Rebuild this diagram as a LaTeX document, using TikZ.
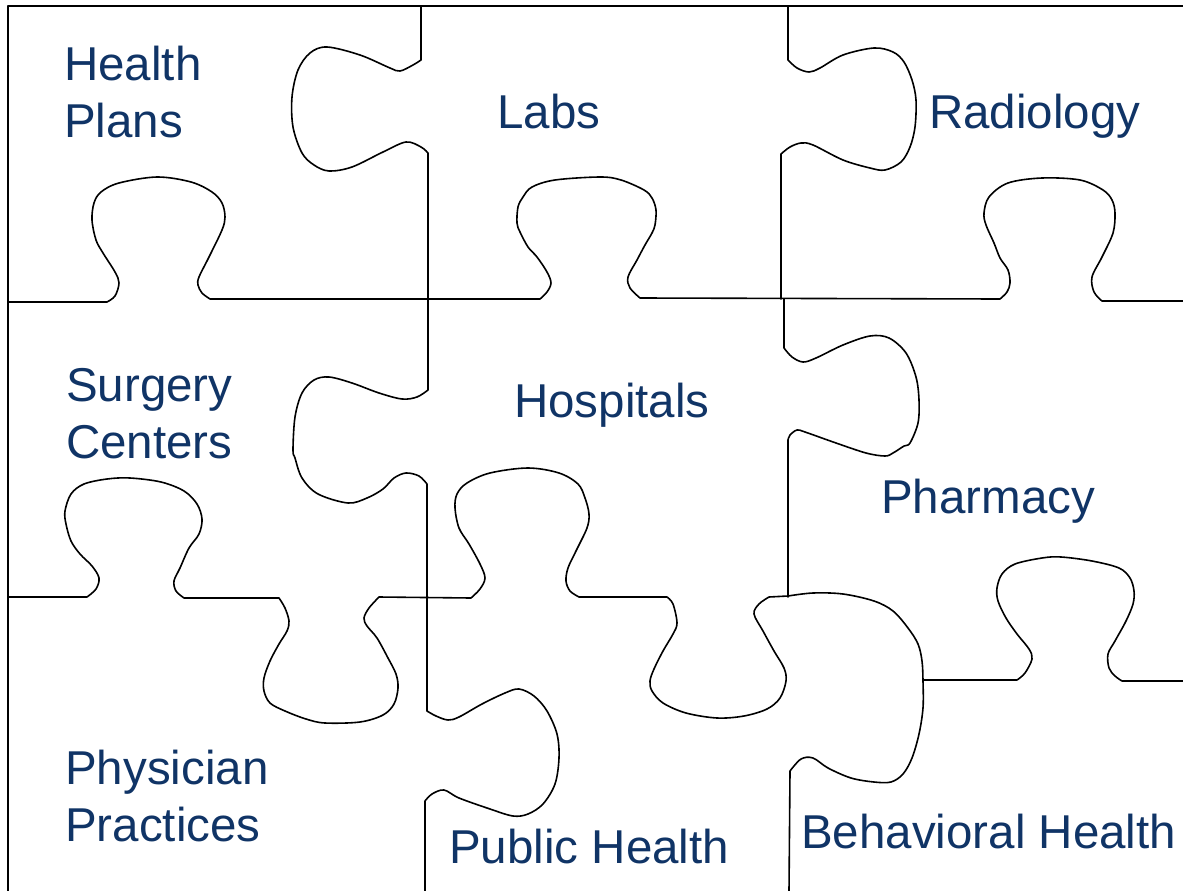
\documentclass[tikz,border=0pt]{standalone}
\usepackage{fontspec}
\setmainfont{Liberation Sans}
\usepackage{tikz}
\usetikzlibrary{positioning}
\definecolor{piececolor}{RGB}{16,52,102}

\begin{document}
\begin{tikzpicture} [
			x=1pt,y=-1pt,
			cut line/.style={draw=black,line width=1.6pt,line join=round,line cap=round},
			piece text/.style={text=piececolor,inner sep=0pt,anchor=base west,align=left,font=\fontsize{47.5}{57}\selectfont},
			tab/.style={smooth,tension=.55},
		]
		
		\useasboundingbox (0,0) rectangle (1183,891);
		\fill[white] (0,0) rectangle (1183,891);
		\clip (0,0) rectangle (1183,891);
		
		% outer frame (top and left only)
		\draw[cut line] (1183,6) -- (8,6) -- (8,891);
		
		% first column seam
		\draw[cut line] (421,6) -- (421,60)
			-- plot[tab] coordinates {(421,60) (413,65) (400,71) (390,68) (360,55) (327,47) (310,53) (298,70) (292,97) (293,127) (302,153) (314,165) (329,171) (352,167) (383,152) (406,142) (421,147) (428,153)}
			-- (428,390)
			-- plot[tab] coordinates {(428,390) (417,397) (402,399) (379,393) (352,383) (329,377) (314,380) (302,393) (295,417) (293,450) (295,458) (302,478) (318,494) (348,503) (367,498) (383,489) (394,478) (406,473) (419,476) (427,484)}
			-- (427,711)
			-- plot[tab] coordinates {(427,711) (436,716) (448,720) (459,717) (482,704) (505,693) (519,689) (534,696) (547,711) (557,734) (559,758) (555,784) (543,804) (528,814) (513,816) (490,809) (459,798) (444,790) (432,794) (425,801)}
			-- (425,891);
		
		% first row seam
		\draw[cut line] (8,302) -- (107,302)
			-- plot[tab] coordinates {(107,302) (115,296) (119,283) (115,272) (103,253) (96,240) (92,220) (94,203) (101,192) (119,183) (157,177) (191,182) (212,192) (222,203) (225,217) (222,230) (209,257) (199,277) (198,285) (202,293) (210,299)}
			-- (540,299)
			-- plot[tab] coordinates {(540,299) (547,292) (551,283) (547,272) (537,257) (528,247) (520,232) (517,223) (518,207) (523,197) (532,187) (555,180) (600,177) (621,180) (644,190) (652,198) (656,210) (655,225) (652,233) (645,245) (637,260) (628,277) (630,288) (640,298)}
			-- (1000,299)
			-- plot[tab] coordinates {(1000,299) (1007,292) (1010,283) (1008,270) (1000,258) (994,243) (986,225) (984,213) (989,197) (1008,183) (1042,178) (1080,180) (1103,190) (1112,200) (1115,213) (1113,233) (1102,257) (1092,277) (1094,292) (1102,301)}
			-- (1183,301);
		
		% second column seam, upper part
		\draw[cut line] (788,6) -- (788,60)
			-- plot[tab] coordinates {(788,60) (797,68) (809,72) (820,68) (843,55) (874,48) (893,52) (904,62) (912,80) (916,100) (915,127) (910,147) (901,162) (885,170) (870,168) (843,160) (813,145) (801,143) (790,147) (781,154)}
			-- (781,299);
		\draw[cut line] (784,299) -- (784,348)
			-- plot[tab] coordinates {(784,348) (792,357) (803,362) (816,358) (843,345) (870,336) (889,338) (906,353) (916,377) (919,400) (918,423) (910,443) (904,446) (893,453) (885,456) (866,453) (836,443) (805,432) (797,430) (790,435) (788,440)}
			-- (788,597);
		
		% second row seam
		\draw[cut line] (8,597) -- (87,597)
			-- plot[tab] coordinates {(87,597) (96,589) (99,578) (92,566) (80,554) (71,541) (66,524) (65,511) (71,494) (84,484) (107,479) (130,478) (161,482) (184,491) (197,504) (202,519) (199,534) (189,548) (180,568) (174,581) (176,591) (184,598)}
			-- (279,598)
			-- plot[tab] coordinates {(279,598) (285,608) (289,621) (287,631) (279,644) (270,661) (264,678) (264,691) (270,703) (285,711) (306,719) (325,723) (360,722) (383,715) (394,704) (398,688) (396,674) (388,658) (377,638) (367,626) (364,618) (369,608) (379,597)}
			-- (471,598)
			-- plot[tab] coordinates {(471,598) (480,589) (485,578) (480,564) (469,544) (459,528) (455,508) (457,494) (467,483) (490,473) (528,468) (559,473) (578,484) (585,498) (589,514) (587,528) (576,551) (568,568) (566,581) (570,591) (579,597)}
			-- (667,597)
			-- plot[tab] coordinates {(667,597) (673,604) (677,623) (673,634) (663,651) (654,669) (650,681) (652,691) (663,703) (686,713) (717,718) (744,716) (767,709) (780,698) (786,681) (784,668) (774,651) (763,631) (754,614) (759,604) (769,597)}
			-- (788,596)
			-- plot[tab] coordinates {(788,596) (813,593) (843,594) (874,601) (893,611) (908,628) (918,644) (922,661) (923,681) (923,708) (919,734) (912,758) (903,774) (891,782) (874,782) (851,778) (828,768) (813,758) (801,759) (790,771)}
			-- (789,891);
		\draw[cut line] (923,680) -- (1017,680)
			-- plot[tab] coordinates {(1017,680) (1025,673) (1032,659) (1029,649) (1017,634) (1006,618) (998,601) (997,588) (1002,574) (1015,564) (1042,558) (1061,557) (1092,561) (1119,568) (1130,578) (1134,591) (1133,604) (1126,621) (1115,641) (1108,654) (1109,668) (1115,676) (1122,681)}
			-- (1183,681);
		
		% labels (two-line ones sit on their last baseline)
		\node[piece text] (plans) at (64,137) {Health\\Plans};
		\node[piece text] (labs) at (497,128) {Labs};
		\node[piece text] (radiology) at (929,128) {Radiology};
		\node[piece text] (surgery) at (66,458) {Surgery\\Centers};
		\node[piece text] (hospitals) at (514,417) {Hospitals};
		\node[piece text] (pharmacy) at (881,513) {Pharmacy};
		\node[piece text] (physician) at (65,841) {Physician\\Practices};
		\node[piece text] (public) at (449,863) {Public Health};
		\node[piece text] (behavioral) at (801,848) {Behavioral Health};
		
	\end{tikzpicture}
\end{document}
